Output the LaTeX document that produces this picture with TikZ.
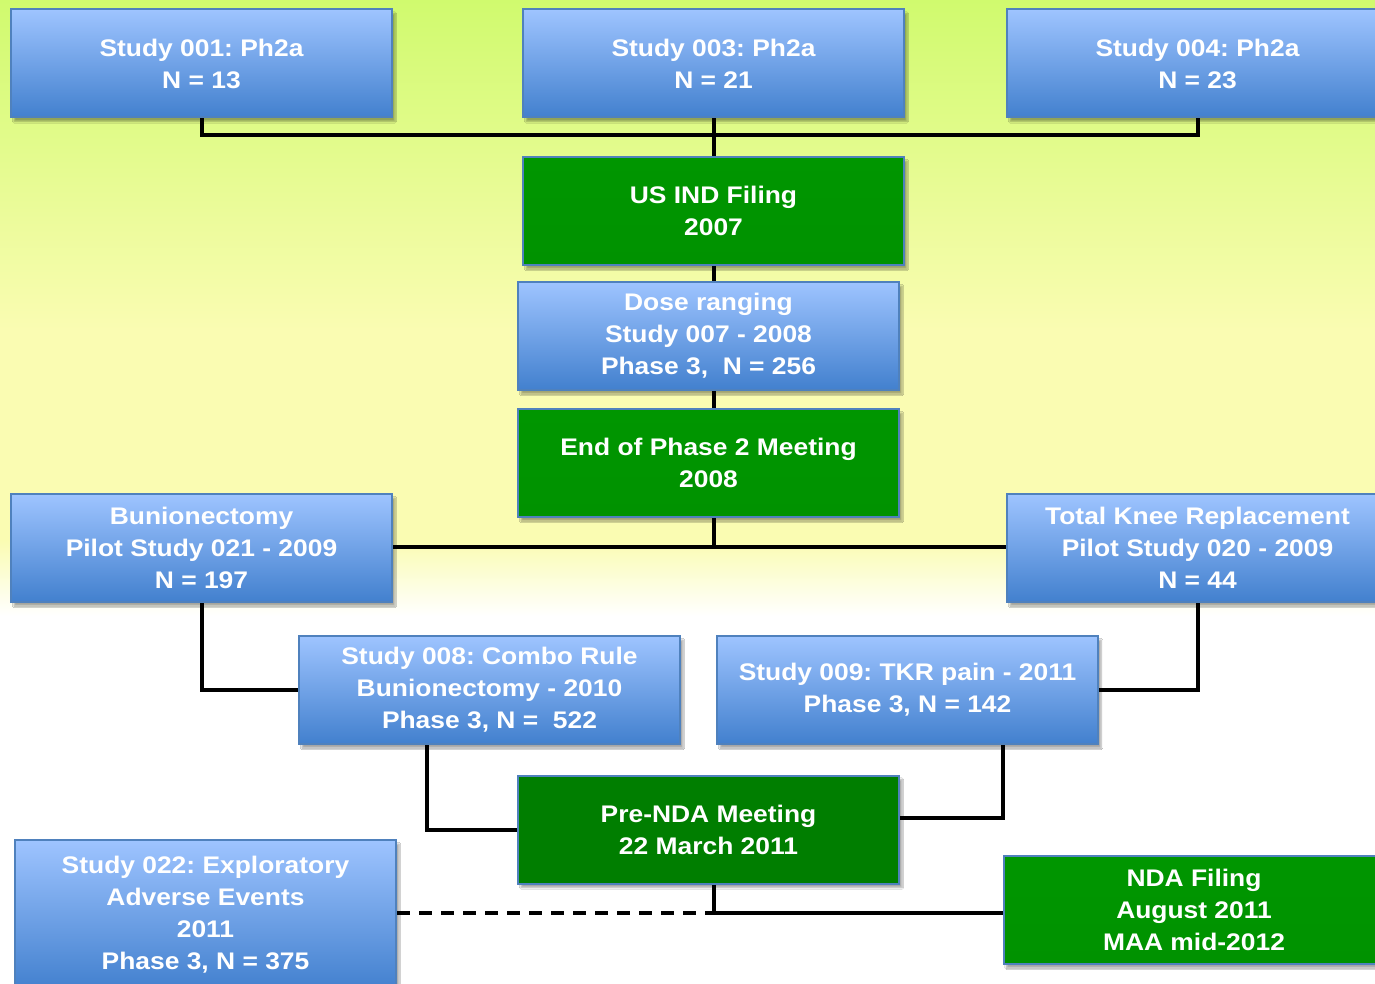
\documentclass[tikz,border=0pt]{standalone}
\usepackage{fontspec}
\usepackage{tikz}
\usetikzlibrary{positioning, shadows.blur}

\newfontfamily\boxfont{Liberation Sans}[FakeStretch=1.1]
\frenchspacing

\definecolor{bglime}{RGB}{208,250,110}
\definecolor{bgpale}{RGB}{250,252,178}
\definecolor{studytop}{RGB}{158,196,255}
\definecolor{studybot}{RGB}{66,128,206}
\definecolor{studyedge}{RGB}{79,129,189}
\definecolor{mstop}{RGB}{0,150,0}
\definecolor{msmid}{RGB}{0,120,0}
\definecolor{msbot}{RGB}{0,146,0}
\definecolor{msflat}{RGB}{0,126,0}

\begin{document}
\begin{tikzpicture}[
  x=1pt, y=-1pt,
  wire/.style    = {line width=4pt, black},
  box/.style     = {draw=studyedge, line width=2pt, rectangle, align=center,
                    minimum width=381pt, minimum height=108pt, inner sep=0pt,
                    text=white, font=\boxfont\bfseries\fontsize{24}{32}\selectfont,
                    blur shadow={shadow xshift=3pt, shadow yshift=-4pt,
                                 shadow opacity=35, shadow blur steps=6}},
  study/.style   = {box, top color=studytop, bottom color=studybot},
  milestone/.style = {box, top color=mstop, middle color=msmid, bottom color=msbot},
  meeting/.style = {box, fill=msflat},
]
  \clip (0,0) rectangle (1375,984);

  % background wash
  \shade[top color=bglime, bottom color=bgpale] (0,0) rectangle (1375,330);
  \fill[bgpale] (0,330) rectangle (1375,540);
  \shade[top color=bgpale, bottom color=white] (0,540) rectangle (1375,616);
  \fill[white] (0,616) rectangle (1375,984);

  % phase 2a studies
  \node[study] (s001) at (201.5,63.5)  {Study 001: Ph2a\\N = 13};
  \node[study] (s003) at (713.5,63.5)  {Study 003: Ph2a\\N = 21};
  \node[study] (s004) at (1197.5,63.5) {Study 004: Ph2a\\N = 23};

  % central column
  \node[milestone] (ind)  at (713.5,211) {US IND Filing\\2007};
  \node[study]     (dose) at (708.5,336) {Dose ranging\\Study 007 - 2008\\Phase 3,\ \ N = 256};
  \node[milestone] (eop)  at (708.5,463) {End of Phase 2 Meeting\\2008};

  % pilot studies
  \node[study] (bun) at (201.5,548)  {Bunionectomy\\Pilot Study 021 - 2009\\N = 197};
  \node[study] (tkr) at (1197.5,548) {Total Knee Replacement\\Pilot Study 020 - 2009\\N = 44};

  % phase 3 studies
  \node[study] (s008) at (489.5,690) {Study 008: Combo Rule\\Bunionectomy - 2010\\Phase 3, N =\ \ 522};
  \node[study] (s009) at (907.5,690) {Study 009: TKR pain - 2011\\Phase 3, N = 142};

  \node[meeting]   (prenda) at (708.5,829.5) {Pre-NDA Meeting\\22 March 2011};
  \node[study, minimum height=150pt] (s022) at (205.5,915) {Study 022: Exploratory\\Adverse Events\\2011\\Phase 3, N = 375};
  \node[milestone] (nda) at (1194,910) {NDA Filing\\August 2011\\MAA mid-2012};

  % junction points on the wires
  \coordinate (topbus) at (713.5,135);
  \coordinate (midbus) at (713.5,547);
  \coordinate (rtap)   at (1003,818);
  \coordinate (ltap)   at (427,828.5);
  \coordinate (ndabus) at (713.5,913);

  \draw[wire] (s001.south) |- (topbus) -| (s004.south);
  \draw[wire] (s003.south) -- (ind.north);
  \draw[wire] (ind.south) -- (ind.south |- dose.north);
  \draw[wire] (ind.south |- dose.south) -- (ind.south |- eop.north);
  \draw[wire] (ind.south |- eop.south) -- (midbus);
  \draw[wire] (bun.east |- midbus) -- (tkr.west |- midbus);

  \draw[wire] (bun.south) |- (s008.west);
  \draw[wire] (tkr.south) |- (s009.east);
  \draw[wire] (s008.south -| ltap) |- (prenda.west);
  \draw[wire] (s009.south -| rtap) -- (rtap) -- (rtap -| prenda.east);

  \draw[wire] (ind.south |- prenda.south) -- (ndabus) -- (ndabus -| nda.west);
  % dashed link from study 022
  \draw[wire, dash pattern=on 13pt off 9pt] (s022.east |- ndabus) -- (ndabus);
\end{tikzpicture}
\end{document}
